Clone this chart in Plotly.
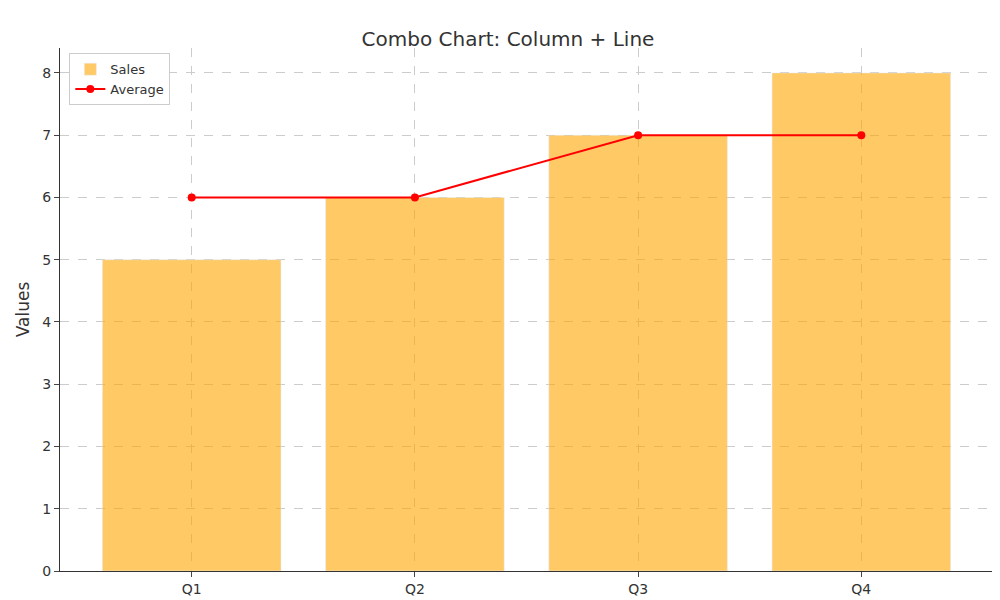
import plotly.graph_objects as go

quarters = ["Q1", "Q2", "Q3", "Q4"]
sales = [5, 6, 7, 8]
average = [6, 6, 7, 7]

fig = go.Figure()
fig.add_trace(go.Bar(x=quarters, y=sales, name="Sales", marker_color="rgba(255,165,0,0.6)", width=0.8))
fig.add_trace(go.Scatter(x=quarters, y=average, name="Average", mode="lines+markers",
                         line=dict(color="red", width=2), marker=dict(color="red", size=8)))
fig.update_layout(
    width=1000, height=600, plot_bgcolor="white", paper_bgcolor="white",
    margin=dict(l=52, r=15, t=40, b=37),
    font=dict(family="DejaVu Sans", color="#333", size=14),
    title=dict(text="Combo Chart: Column + Line", x=0.5, y=0.96, font=dict(size=20)),
    legend=dict(x=0.01, y=0.99, xanchor="left", yanchor="top", traceorder="normal",
                bordercolor="#ccc", borderwidth=1, bgcolor="white", font=dict(size=13)),
    bargap=0.2,
)
fig.update_xaxes(range=[-0.59, 3.59], showline=True, linecolor="#333", ticks="outside",
                 showgrid=True, gridcolor="#ccc", griddash="dash", mirror=False)
fig.update_yaxes(range=[0, 8.4], dtick=1, showline=True, linecolor="#333", ticks="outside",
                 showgrid=True, gridcolor="#ccc", griddash="dash", zeroline=False,
                 title=dict(text="Values", standoff=8))
fig.write_html("out.html")
